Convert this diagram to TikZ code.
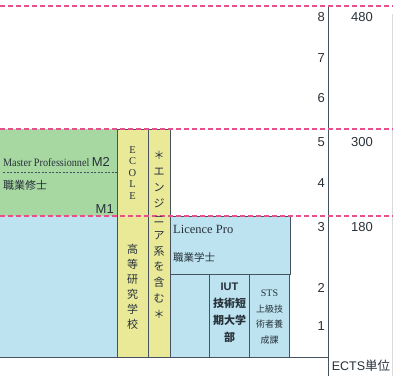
\documentclass[tikz,border=0pt]{standalone}
\usepackage{fontspec}
\setmainfont{Liberation Serif}
\setsansfont{Liberation Sans}
\newfontfamily\jp{Noto Sans CJK JP}
\newfontfamily\condserif[FakeStretch=0.9]{Liberation Serif}
\definecolor{pinkd}{HTML}{E8508C}
\definecolor{boxline}{HTML}{46525E}
\definecolor{greenf}{HTML}{A8D8A2}
\definecolor{bluef}{HTML}{BCE3EF}
\definecolor{yellowf}{HTML}{E9E998}
\definecolor{txt}{HTML}{27313A}
\tikzset{
  box/.style={anchor=north west, inner sep=0pt, outer sep=0pt, line width=0.7pt, draw=boxline},
  pinkline/.style={draw=pinkd, line width=1.1pt, dash pattern=on 5pt off 3pt},
  axisline/.style={draw=boxline, line width=0.9pt},
  num/.style={font=\sffamily\fontsize{13}{15}\selectfont, text=txt, inner sep=0pt},
  vcol/.style={align=center, inner sep=0pt, text=txt},
}
\begin{document}
\begin{tikzpicture}[x=1pt,y=-1pt]
\useasboundingbox (0,0) rectangle (393,376);
% boxes
\node[box, draw=none, fill=greenf, minimum width=117pt, minimum height=87pt] (green) at (0,129) {};
\node[box, draw=none, fill=bluef, minimum width=117pt, minimum height=141pt] (blueL) at (0,216) {};
\node[box, fill=yellowf, minimum width=31pt, minimum height=228pt] (yel1) at (117,129) {};
\node[box, fill=yellowf, minimum width=22pt, minimum height=228pt] (yel2) at (148,129) {};
\node[box, fill=bluef, minimum width=120pt, minimum height=58pt] (lic) at (170,216) {};
\node[box, fill=bluef, minimum width=39pt, minimum height=83pt] (b1) at (170,274) {};
\node[box, fill=bluef, minimum width=40pt, minimum height=83pt] (iut) at (209,274) {};
\node[box, fill=bluef, minimum width=40pt, minimum height=83pt] (sts) at (249,274) {};
% inner dashed line of master box
\coordinate (mdL) at (3,172);
\coordinate (mdR) at (117,172);
\draw[boxline, line width=0.6pt, dash pattern=on 2pt off 1.5pt] (mdL) -- (mdR);
% bottom line and axis
\coordinate (botL) at (0,357);
\coordinate (axT) at (328,6);
\coordinate (axB) at (328,376);
\coordinate (axM) at (328,357);
\draw[axisline] (botL) -- (axM);
\draw[axisline] (axT) -- (axB);
\coordinate (rT) at (392.5,14);
\coordinate (rB) at (392.5,376);
\draw[black!15, line width=0.5pt] (rT) -- (rB);
% pink dashed lines
\coordinate (p1L) at (0,6);   \coordinate (p1R) at (393,6);
\coordinate (p2L) at (0,129); \coordinate (p2R) at (393,129);
\coordinate (p3L) at (0,216); \coordinate (p3R) at (393,216);
\draw[pinkline] (p1L) -- (p1R);
\draw[pinkline] (p2L) -- (p2R);
\draw[pinkline] (p3L) -- (p3R);
% master texts
\node[anchor=base west, inner sep=0pt, text=txt] (mp) at (3,166)
  {\condserif\fontsize{11.3}{13}\selectfont Master Professionnel \sffamily\fontsize{13}{15}\selectfont M2};
\node[anchor=west, inner sep=0pt, text=txt, font=\jp\fontsize{11}{13}\selectfont] (mjp) at (3,185) {職業修士};
\node[anchor=base east, inner sep=0pt, text=txt, font=\sffamily\fontsize{13}{15}\selectfont] (m1) at (114,213) {M1};
% yellow columns
\node[vcol, anchor=north, font=\fontsize{10.5}{11.5}\selectfont] (ecole) at (132.5,146) {E\\C\\O\\L\\E};
\node[vcol, anchor=north, font=\jp\fontsize{11}{15}\selectfont] (koto) at (132.5,244) {高\\等\\研\\究\\学\\校};
\node[vcol, anchor=north, font=\jp\fontsize{11}{15.9}\selectfont] (eng) at (159,151) {＊\\エ\\ン\\ジ\\ニ\\ア\\系\\を\\含\\む\\＊};
% licence pro
\node[anchor=west, inner sep=0pt, text=txt, font=\fontsize{12.5}{14}\selectfont] (lp) at (173,229) {Licence Pro};
\node[anchor=west, inner sep=0pt, text=txt, font=\jp\fontsize{10.5}{12}\selectfont] (lpj) at (173,257) {職業学士};
% IUT
\node[vcol, anchor=north, font=\jp\bfseries\fontsize{11}{17}\selectfont] (iutt) at (229.5,283)
  {{\sffamily\fontsize{11}{12}\selectfont IUT}\\技術短\\期大学\\部};
% STS
\node[vcol, anchor=north, font=\jp\fontsize{9}{15.5}\selectfont] (stst) at (269.5,290)
  {{\rmfamily\fontsize{10}{12}\selectfont STS}\\上級技\\術者養\\成課};
% axis numbers
\node[num, anchor=east] (n8) at (325,17) {8};
\node[num, anchor=east] (n7) at (325,58) {7};
\node[num, anchor=east] (n6) at (325,98) {6};
\node[num, anchor=east] (n5) at (325,142) {5};
\node[num, anchor=east] (n4) at (325,183) {4};
\node[num, anchor=east] (n3) at (325,227) {3};
\node[num, anchor=east] (n2) at (325,288) {2};
\node[num, anchor=east] (n1) at (325,326) {1};
\node[num] (e480) at (362,17) {480};
\node[num] (e300) at (362,142) {300};
\node[num] (e180) at (362,227) {180};
\node[num, font=\sffamily\fontsize{12.5}{14}\selectfont] (ects) at (361,366) {ECTS{\jp 単位}};
\end{tikzpicture}
\end{document}
